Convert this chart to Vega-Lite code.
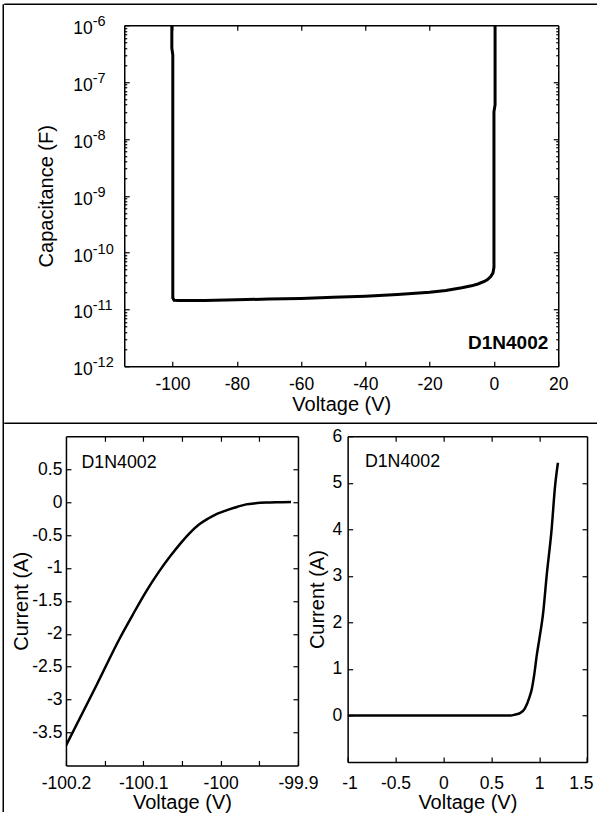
{
  "$schema": "https://vega.github.io/schema/vega-lite/v6.json",
  "padding": {"left": 3.25, "top": 4.25, "right": 0, "bottom": 0},
  "datasets": {
    "cv": [
      {"i":0,"v":-100.2,"c":1e-6},
      {"i":1,"v":-100.2,"c":4e-7},
      {"i":2,"v":-99.9,"c":3e-7},
      {"i":3,"v":-99.9,"c":1.6e-11},
      {"i":4,"v":-99.5,"c":1.45e-11},
      {"i":5,"v":-98,"c":1.43e-11},
      {"i":6,"v":-95,"c":1.43e-11},
      {"i":7,"v":-90,"c":1.44e-11},
      {"i":8,"v":-80,"c":1.48e-11},
      {"i":9,"v":-70,"c":1.52e-11},
      {"i":10,"v":-60,"c":1.56e-11},
      {"i":11,"v":-50,"c":1.63e-11},
      {"i":12,"v":-40,"c":1.71e-11},
      {"i":13,"v":-30,"c":1.83e-11},
      {"i":14,"v":-20,"c":2.0e-11},
      {"i":15,"v":-15,"c":2.15e-11},
      {"i":16,"v":-10,"c":2.4e-11},
      {"i":17,"v":-7,"c":2.6e-11},
      {"i":18,"v":-5,"c":2.8e-11},
      {"i":19,"v":-3,"c":3.1e-11},
      {"i":20,"v":-2,"c":3.35e-11},
      {"i":21,"v":-1,"c":3.8e-11},
      {"i":22,"v":-0.3,"c":4.4e-11},
      {"i":23,"v":0,"c":5.5e-11},
      {"i":24,"v":0,"c":3e-8},
      {"i":25,"v":0.35,"c":4e-8},
      {"i":26,"v":0.35,"c":1e-6}
    ],
    "rev": [
      {"i":0,"v":-100.2,"a":-3.70},
      {"i":1,"v":-100.16,"a":-2.77},
      {"i":2,"v":-100.13,"a":-2.06},
      {"i":3,"v":-100.114,"a":-1.72},
      {"i":4,"v":-100.097,"a":-1.37},
      {"i":5,"v":-100.079,"a":-1.045},
      {"i":6,"v":-100.065,"a":-0.82},
      {"i":7,"v":-100.051,"a":-0.615},
      {"i":8,"v":-100.04,"a":-0.47},
      {"i":9,"v":-100.0275,"a":-0.338},
      {"i":10,"v":-100.016,"a":-0.25},
      {"i":11,"v":-100.006,"a":-0.186},
      {"i":12,"v":-99.997,"a":-0.145},
      {"i":13,"v":-99.989,"a":-0.11},
      {"i":14,"v":-99.978,"a":-0.07},
      {"i":15,"v":-99.967,"a":-0.035},
      {"i":16,"v":-99.955,"a":-0.018},
      {"i":17,"v":-99.941,"a":-0.008},
      {"i":18,"v":-99.925,"a":-0.003},
      {"i":19,"v":-99.909,"a":0.0}
    ],
    "fwd": [
      {"i":0,"v":-1.0,"a":0},
      {"i":1,"v":0.0,"a":0},
      {"i":2,"v":0.6,"a":0},
      {"i":3,"v":0.7,"a":0.0},
      {"i":4,"v":0.75,"a":0.02},
      {"i":5,"v":0.8,"a":0.05},
      {"i":6,"v":0.85,"a":0.15},
      {"i":7,"v":0.9,"a":0.4},
      {"i":8,"v":0.922,"a":0.56},
      {"i":9,"v":0.95,"a":0.9},
      {"i":10,"v":0.974,"a":1.28},
      {"i":11,"v":1.0,"a":1.62},
      {"i":12,"v":1.044,"a":2.25},
      {"i":13,"v":1.078,"a":3.0},
      {"i":14,"v":1.13,"a":4.0},
      {"i":15,"v":1.166,"a":4.93},
      {"i":16,"v":1.196,"a":5.43}
    ],
    "none": []
  },
  "spacing": 0,
  "hconcat": [
    {"width": 0.5, "height": 807.75, "data": {"name": "none"}, "mark": "point",
     "encoding": {"y": {"field": "k", "type": "quantitative", "scale": {"domain": [0, 1]}, "axis": {"orient": "left", "labels": false, "ticks": false, "title": null, "domainWidth": 1.5, "minExtent": 0, "maxExtent": 0, "translate": 0}}}},
    {
      "spacing": 0,
      "vconcat": [
        {"width": 593, "height": 1, "data": {"name": "none"}, "mark": "point",
         "encoding": {"x": {"field": "k", "type": "quantitative", "scale": {"domain": [0, 1]}, "axis": {"orient": "top", "labels": false, "ticks": false, "title": null, "domainWidth": 1.5, "minExtent": 0, "maxExtent": 0, "translate": 0}}}},
        {"width": 1, "height": 7.25, "data": {"name": "none"}, "mark": "point"},
        {
          "spacing": 0,
          "hconcat": [
            {"width": 32, "height": 1, "data": {"name": "none"}, "mark": "point"},
            {
              "width": 434,
              "height": 341,
              "data": {"name": "cv"},
              "layer": [
                {
                  "mark": {"type": "line", "color": "black", "strokeWidth": 3, "clip": true},
                  "encoding": {
                    "x": {"field": "v", "type": "quantitative", "scale": {"domain": [-115, 20], "nice": false, "zero": false},
                      "axis": {"orient": "bottom", "values": [-100, -80, -60, -40, -20, 0, 20], "title": "Voltage (V)", "tickSize": -5, "labelPadding": 14.4, "titlePadding": 1.5, "labelFlush": false, "labelOverlap": false,
                        "labelExpr": "(datum.value < 0 ? '-' : '') + format(abs(datum.value), '~g')"}},
                    "y": {"field": "c", "type": "quantitative", "scale": {"type": "log", "domain": [1e-12, 1e-6], "nice": false},
                      "axis": {"orient": "left", "values": [1e-12, 1e-11, 1e-10, 1e-9, 1e-8, 1e-7, 1e-6], "title": "Capacitance (F)", "tickSize": -5, "labelPadding": 56.5, "labelAlign": "left", "labelBaseline": "middle", "labelOffset": 3.5, "titlePadding": 16, "labelOverlap": false, "labelFlush": false,
                        "labelExpr": "'10'"}},
                    "order": {"field": "i"}
                  }
                },
                {
                  "mark": {"type": "line", "opacity": 0},
                  "encoding": {
                    "x": {"field": "v", "type": "quantitative", "axis": null},
                    "y": {"field": "c", "type": "quantitative", "axis": {"orient": "left", "values": [1e-12, 1e-11, 1e-10, 1e-9, 1e-8, 1e-7, 1e-6], "ticks": false, "domain": false, "title": null, "labelPadding": 32, "labelAlign": "left", "labelBaseline": "middle", "labelOffset": -3.5, "labelFontSize": 14.5, "labelOverlap": false, "labelFlush": false, "minExtent": 0,
                      "labelExpr": "'-' + format(abs(round(log(datum.value)/LN10)), 'd')"}},
                    "order": {"field": "i"}
                  }
                },
                {
                  "mark": {"type": "line", "opacity": 0},
                  "encoding": {
                    "x": {"field": "v", "type": "quantitative", "axis": {"orient": "top", "values": [-100, -80, -60, -40, -20, 0], "labels": false, "title": null, "tickSize": -5, "minExtent": 0, "maxExtent": 0}},
                    "y": {"field": "c", "type": "quantitative", "axis": {"orient": "right", "values": [1e-11, 1e-10, 1e-9, 1e-8, 1e-7], "labels": false, "title": null, "tickSize": -5, "minExtent": 0, "maxExtent": 0}},
                    "order": {"field": "i"}
                  }
                },
                {
                  "mark": {"type": "line", "opacity": 0},
                  "encoding": {
                    "x": {"field": "v", "type": "quantitative", "axis": null},
                    "y": {"field": "c", "type": "quantitative", "axis": {"orient": "left", "domain": false, "labels": false, "title": null, "tickSize": -2.5, "minExtent": 0, "maxExtent": 0,
                      "values": [2e-12,3e-12,4e-12,5e-12,6e-12,7e-12,8e-12,9e-12,2e-11,3e-11,4e-11,5e-11,6e-11,7e-11,8e-11,9e-11,2e-10,3e-10,4e-10,5e-10,6e-10,7e-10,8e-10,9e-10,2e-9,3e-9,4e-9,5e-9,6e-9,7e-9,8e-9,9e-9,2e-8,3e-8,4e-8,5e-8,6e-8,7e-8,8e-8,9e-8,2e-7,3e-7,4e-7,5e-7,6e-7,7e-7,8e-7,9e-7]}},
                    "order": {"field": "i"}
                  }
                },
                {
                  "mark": {"type": "line", "opacity": 0},
                  "encoding": {
                    "x": {"field": "v", "type": "quantitative", "axis": null},
                    "y": {"field": "c", "type": "quantitative", "axis": {"orient": "right", "domain": false, "labels": false, "title": null, "tickSize": -2.5, "minExtent": 0, "maxExtent": 0,
                      "values": [2e-12,3e-12,4e-12,5e-12,6e-12,7e-12,8e-12,9e-12,2e-11,3e-11,4e-11,5e-11,6e-11,7e-11,8e-11,9e-11,2e-10,3e-10,4e-10,5e-10,6e-10,7e-10,8e-10,9e-10,2e-9,3e-9,4e-9,5e-9,6e-9,7e-9,8e-9,9e-9,2e-8,3e-8,4e-8,5e-8,6e-8,7e-8,8e-8,9e-8,2e-7,3e-7,4e-7,5e-7,6e-7,7e-7,8e-7,9e-7]}},
                    "order": {"field": "i"}
                  }
                },
                {
                  "data": {"values": [{"x": 16.9, "y": 2.6e-12, "t": "D1N4002"}]},
                  "mark": {"type": "text", "align": "right", "baseline": "middle", "fontWeight": "bold", "fontSize": 19, "font": "Liberation Sans", "color": "black"},
                  "encoding": {
                    "x": {"field": "x", "type": "quantitative", "axis": null},
                    "y": {"field": "y", "type": "quantitative", "axis": null},
                    "text": {"field": "t"}
                  }
                }
              ],
              "resolve": {"axis": {"x": "independent", "y": "independent"}}
            }
          ]
        },
        {"width": 1, "height": 7.85, "data": {"name": "none"}, "mark": "point"},
        {"width": 593, "height": 1, "data": {"name": "none"}, "mark": "point",
         "encoding": {"x": {"field": "k", "type": "quantitative", "scale": {"domain": [0, 1]}, "axis": {"orient": "top", "labels": false, "ticks": false, "title": null, "domainWidth": 1.5, "minExtent": 0, "maxExtent": 0, "translate": 0}}}},
        {"width": 1, "height": 2.5, "data": {"name": "none"}, "mark": "point"},
        {
          "spacing": -10.3,
          "hconcat": [
            {"width": 16.15, "height": 1, "data": {"name": "none"}, "mark": "point"},
            {
              "width": 232,
              "height": 329.2,
              "data": {"name": "rev"},
              "layer": [
                {
                  "mark": {"type": "line", "color": "black", "strokeWidth": 2.5, "clip": true, "interpolate": "monotone"},
                  "encoding": {
                    "x": {"field": "v", "type": "quantitative", "scale": {"domain": [-100.2, -99.9], "nice": false, "zero": false},
                      "axis": {"orient": "bottom", "values": [-100.2, -100.15, -100.1, -100.05, -100, -99.95, -99.9], "title": "Voltage (V)", "tickSize": -5, "labelPadding": 13.7, "titlePadding": 1.3, "labelFlush": false, "labelOverlap": false,
                        "labelExpr": "abs(datum.value*10 - round(datum.value*10)) < 0.01 ? (datum.value < 0 ? '-' : '') + format(abs(datum.value), '~g') : ''"}},
                    "y": {"field": "a", "type": "quantitative", "scale": {"domain": [-4, 1], "nice": false, "zero": false},
                      "axis": {"orient": "left", "values": [-3.5, -3, -2.5, -2, -1.5, -1, -0.5, 0, 0.5], "title": "Current (A)", "tickSize": -5, "labelPadding": 9, "titlePadding": 0.5, "labelOverlap": false, "labelFlush": false,
                        "labelExpr": "(datum.value < 0 ? '-' : '') + format(abs(datum.value), '~g')"}},
                    "order": {"field": "i"}
                  }
                },
                {
                  "mark": {"type": "line", "opacity": 0},
                  "encoding": {
                    "x": {"field": "v", "type": "quantitative", "axis": {"orient": "top", "values": [-100.15, -100.1, -100.05, -100, -99.95], "labels": false, "title": null, "tickSize": -5, "minExtent": 0, "maxExtent": 0}},
                    "y": {"field": "a", "type": "quantitative", "axis": {"orient": "right", "values": [-3.5, -3, -2.5, -2, -1.5, -1, -0.5, 0, 0.5], "labels": false, "title": null, "tickSize": -5, "minExtent": 0, "maxExtent": 0}},
                    "order": {"field": "i"}
                  }
                },
                {
                  "data": {"values": [{"x": -100.18, "y": 0.6, "t": "D1N4002"}]},
                  "mark": {"type": "text", "align": "left", "baseline": "middle", "fontSize": 17.8, "font": "Liberation Sans", "color": "black"},
                  "encoding": {
                    "x": {"field": "x", "type": "quantitative", "axis": null},
                    "y": {"field": "y", "type": "quantitative", "axis": null},
                    "text": {"field": "t"}
                  }
                }
              ],
              "resolve": {"axis": {"x": "independent", "y": "independent"}}
            },
            {
              "width": 239.4,
              "height": 325.8,
              "data": {"name": "fwd"},
              "layer": [
                {
                  "mark": {"type": "line", "color": "black", "strokeWidth": 2.5, "clip": true, "interpolate": "monotone"},
                  "encoding": {
                    "x": {"field": "v", "type": "quantitative", "scale": {"domain": [-1, 1.5], "nice": false, "zero": false},
                      "axis": {"orient": "bottom", "values": [-1, -0.5, 0, 0.5, 1, 1.5], "title": "Voltage (V)", "tickSize": -5, "labelPadding": 17.1, "titlePadding": 1.3, "labelFlush": true, "labelFlushOffset": 6, "labelOverlap": false,
                        "labelExpr": "(datum.value < 0 ? '-' : '') + format(abs(datum.value), '~g')"}},
                    "y": {"field": "a", "type": "quantitative", "scale": {"domain": [-1, 6], "nice": false, "zero": false},
                      "axis": {"orient": "left", "values": [0, 1, 2, 3, 4, 5, 6], "title": "Current (A)", "tickSize": -5, "labelPadding": 11, "titlePadding": 4, "labelOverlap": false, "labelFlush": false,
                        "labelExpr": "format(datum.value, '~g')"}},
                    "order": {"field": "i"}
                  }
                },
                {
                  "mark": {"type": "line", "opacity": 0},
                  "encoding": {
                    "x": {"field": "v", "type": "quantitative", "axis": {"orient": "top", "values": [-0.5, 0, 0.5, 1], "labels": false, "title": null, "tickSize": -5, "minExtent": 0, "maxExtent": 0}},
                    "y": {"field": "a", "type": "quantitative", "axis": {"orient": "right", "values": [0, 1, 2, 3, 4, 5], "labels": false, "title": null, "tickSize": -5, "minExtent": 0, "maxExtent": 0}},
                    "order": {"field": "i"}
                  }
                },
                {
                  "data": {"values": [{"x": -0.82, "y": 5.45, "t": "D1N4002"}]},
                  "mark": {"type": "text", "align": "left", "baseline": "middle", "fontSize": 17.8, "font": "Liberation Sans", "color": "black"},
                  "encoding": {
                    "x": {"field": "x", "type": "quantitative", "axis": null},
                    "y": {"field": "y", "type": "quantitative", "axis": null},
                    "text": {"field": "t"}
                  }
                }
              ],
              "resolve": {"axis": {"x": "independent", "y": "independent"}}
            }
          ]
        },
        {"width": 1, "height": 2.05, "data": {"name": "none"}, "mark": "point"},
        {"width": 593, "height": 1, "data": {"name": "none"}, "mark": "point",
         "encoding": {"x": {"field": "k", "type": "quantitative", "scale": {"domain": [0, 1]}, "axis": {"orient": "top", "labels": false, "ticks": false, "title": null, "domainWidth": 1.5, "minExtent": 0, "maxExtent": 0, "translate": 0}}}}
      ]
    }
  ],
  "config": {
    "font": "Liberation Sans",
    "view": {"stroke": null},
    "axis": {
      "domainColor": "black", "domainWidth": 1.5, "tickColor": "black", "tickWidth": 1.2,
      "labelColor": "black", "titleColor": "black", "labelFont": "Liberation Sans", "titleFont": "Liberation Sans",
      "labelFontSize": 17.5, "titleFontSize": 20, "titleFontWeight": "normal", "grid": false
    }
  }
}
